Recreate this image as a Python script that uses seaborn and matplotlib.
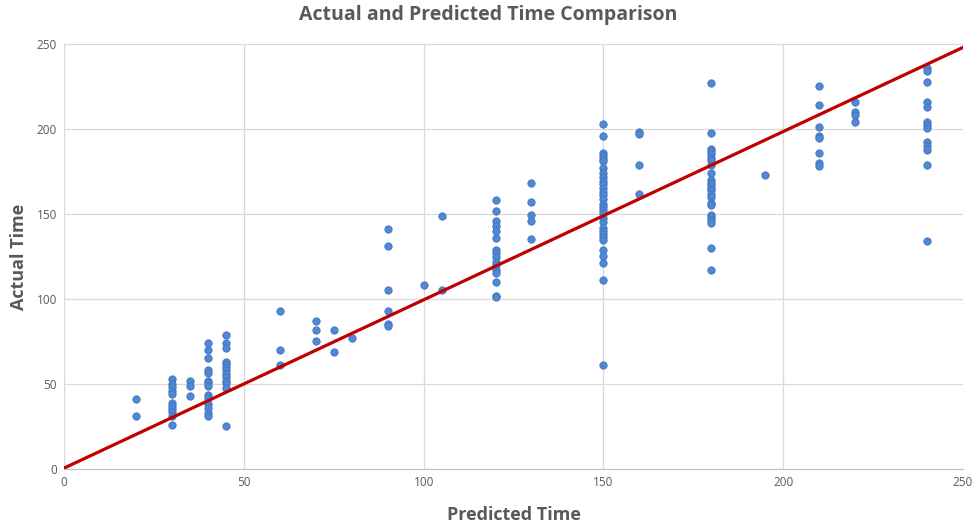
# actual vs predicted time scatter, excel-like look
import numpy as np
import pandas as pd
import matplotlib
matplotlib.use("Agg")
import matplotlib.pyplot as plt
import seaborn as sns

sns.set_style("white")
plt.rcParams["font.family"] = ["Open Sans", "DejaVu Sans"]

# ----------------------------------------------------------
# data (predicted -> list of actual values)
pred_20 = [41, 31]
pred_30 = [53, 50, 48, 46, 44, 39, 37, 35.5, 33.5, 31, 26]
pred_35 = [52, 49, 43]
pred_40 = [74, 70, 65, 58, 56.5, 52, 50.5, 49, 43.5, 42, 38.5, 36, 33, 31]
pred_45 = [79, 74, 71, 63, 62, 60, 58, 56, 54, 52, 50.5, 47.5, 25]
pred_60 = [93, 70, 61]
pred_70 = [87, 82, 75]
pred_75 = [82, 69]
pred_80 = [77]
pred_90 = [141, 131, 105, 93, 85, 84]
pred_100 = [108]
pred_105 = [149, 105]
pred_120 = [158, 152, 146, 143, 140, 136, 129, 127, 124.5, 122, 120, 117, 115, 110, 102, 101]
pred_130 = [168, 157, 149.5, 146, 135]
pred_150 = [203, 196, 186, 184, 182.5, 181, 177, 174, 172, 169.5, 167.5, 165, 163,
            161, 159, 156, 154, 152.5, 150.5, 147.5, 145, 141.5, 140, 138, 136.5,
            134.5, 129, 125, 121, 111, 61]
pred_160 = [198, 197, 179, 161.5]
pred_180 = [227, 197.5, 188.5, 187, 185, 183, 181.5, 179, 174, 170, 168.5, 167,
            165.5, 164, 162, 160, 156.5, 155, 149.5, 148, 146.5, 144.5, 130, 117]
pred_195 = [173]
pred_210 = [225, 214, 201, 196, 194.5, 186, 180, 178]
pred_220 = [216, 210, 208, 204]
pred_240 = [236, 234, 227.5, 216, 213, 204, 202.5, 200.5, 192.5, 190, 187.5, 179, 134]

groups = {20: pred_20, 30: pred_30, 35: pred_35, 40: pred_40, 45: pred_45,
          60: pred_60, 70: pred_70, 75: pred_75, 80: pred_80, 90: pred_90,
          100: pred_100, 105: pred_105, 120: pred_120, 130: pred_130,
          150: pred_150, 160: pred_160, 180: pred_180, 195: pred_195,
          210: pred_210, 220: pred_220, 240: pred_240}

df = pd.DataFrame([(p, a) for p, vals in groups.items() for a in vals],
                  columns=["predicted", "actual"])

# linear trend line
trend_x = [0, 250]
trend_y = [0.5, 248]

# ----------------------------------------------------------
fig = plt.figure(figsize=(9.77, 5.23), dpi=100)
ax = fig.add_axes([0.0655, 0.1033, 0.9202, 0.8126])

sns.scatterplot(data=df, x="predicted", y="actual", ax=ax, s=28,
                color="#5088d4", edgecolor="#3f72bf", linewidth=0.6, zorder=3)
sns.lineplot(x=trend_x, y=trend_y, ax=ax, color="#c00000", lw=2.3, zorder=4)

ax.set_xlim(0, 250)
ax.set_ylim(0, 250)
ax.set_xticks(range(0, 251, 50))
ax.set_yticks(range(0, 251, 50))
ax.grid(True, color="#d9d9d9", lw=0.9)
ax.set_axisbelow(True)
for s in ["top", "right"]:
    ax.spines[s].set_visible(False)
ax.spines["left"].set_color("#d9d9d9")
ax.spines["bottom"].set_color("#bfbfbf")
ax.tick_params(axis="both", length=0, labelsize=8.5, labelcolor="#595959", pad=5)

ax.set_xlabel("Predicted Time", fontsize=13, fontweight="bold", color="#595959", labelpad=12)
ax.set_ylabel("Actual Time", fontsize=13, fontweight="bold", color="#595959", labelpad=6)
fig.suptitle("Actual and Predicted Time Comparison", fontsize=14, fontweight="bold",
             color="#595959", y=0.99)

fig.savefig("out.png", dpi=100)
